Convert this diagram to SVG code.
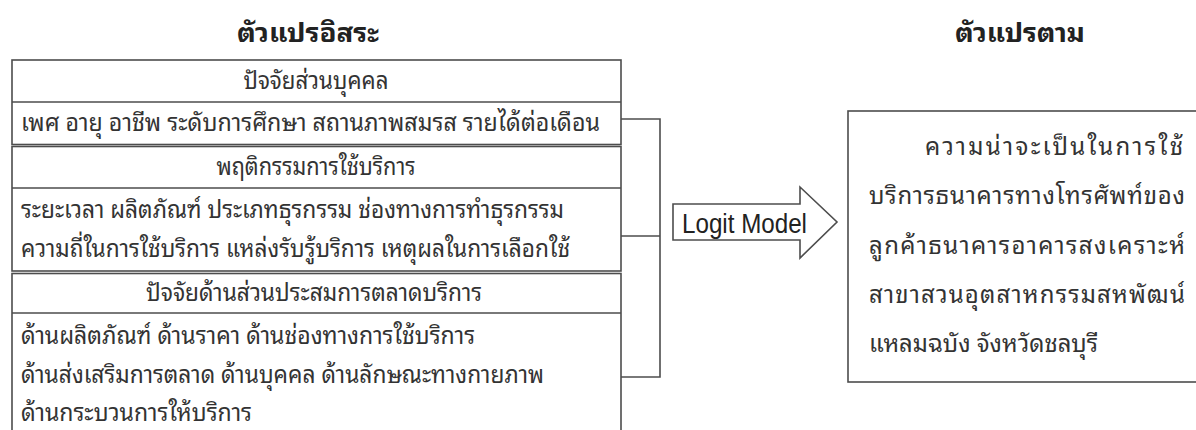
<svg xmlns="http://www.w3.org/2000/svg" width="1196" height="430" viewBox="0 0 1196 430">
<style>
.bx{fill:#fff;stroke:#4d4d4d;stroke-width:1.6}
.ln{fill:none;stroke:#4d4d4d;stroke-width:1.6}
.t{font-family:'Noto Sans Thai Looped','Noto Serif Thai','Loma','Garuda','Noto Sans','DejaVu Sans',sans-serif;font-size:24px;fill:#333}
.c{text-anchor:middle}
.h{font-family:'Noto Sans Thai Looped','Noto Serif Thai','Loma','Garuda','Noto Sans','DejaVu Sans',sans-serif;font-size:26px;font-weight:bold;fill:#222;text-anchor:middle}
.lg{font-family:'Liberation Sans',Arial,sans-serif;font-size:27px;fill:#222}
</style>
<rect width="1196" height="430" fill="#fff"/>
<g id="titles">
<text class="h" x="308" y="42" textLength="142" lengthAdjust="spacingAndGlyphs">ตัวแปรอิสระ</text>
<text class="h" x="1020" y="42" textLength="130" lengthAdjust="spacingAndGlyphs">ตัวแปรตาม</text>
</g>
<g id="personal">
<rect class="bx" x="12" y="60" width="609" height="84.5"/>
<line class="ln" x1="12" y1="102" x2="621" y2="102"/>
<text class="t c" x="316" y="89" textLength="145" lengthAdjust="spacingAndGlyphs">ปัจจัยส่วนบุคคล</text>
<text class="t" x="21" y="131" textLength="579" lengthAdjust="spacingAndGlyphs">เพศ อายุ อาชีพ ระดับการศึกษา สถานภาพสมรส รายได้ต่อเดือน</text>
</g>
<g id="behavior">
<rect class="bx" x="12" y="146.5" width="609" height="124.5"/>
<line class="ln" x1="12" y1="188" x2="621" y2="188"/>
<text class="t c" x="316" y="175" textLength="199" lengthAdjust="spacingAndGlyphs">พฤติกรรมการใช้บริการ</text>
<text class="t" x="21" y="218" textLength="543" lengthAdjust="spacingAndGlyphs">ระยะเวลา ผลิตภัณฑ์ ประเภทธุรกรรม ช่องทางการทำธุรกรรม</text>
<text class="t" x="21" y="257" textLength="549" lengthAdjust="spacingAndGlyphs">ความถี่ในการใช้บริการ แหล่งรับรู้บริการ เหตุผลในการเลือกใช้</text>
</g>
<g id="marketing">
<rect class="bx" x="12" y="273.5" width="609" height="170"/>
<line class="ln" x1="12" y1="313" x2="621" y2="313"/>
<text class="t c" x="314" y="301" textLength="336" lengthAdjust="spacingAndGlyphs">ปัจจัยด้านส่วนประสมการตลาดบริการ</text>
<text class="t" x="21" y="344" textLength="454" lengthAdjust="spacingAndGlyphs">ด้านผลิตภัณฑ์ ด้านราคา ด้านช่องทางการใช้บริการ</text>
<text class="t" x="21" y="383" textLength="523" lengthAdjust="spacingAndGlyphs">ด้านส่งเสริมการตลาด ด้านบุคคล ด้านลักษณะทางกายภาพ</text>
<text class="t" x="21" y="421" textLength="231" lengthAdjust="spacingAndGlyphs">ด้านกระบวนการให้บริการ</text>
</g>
<g id="connectors">
<path class="ln" d="M621 119 H660 V377 H621"/>
<path class="ln" d="M621 236 H660"/>
</g>
<g id="logit">
<path class="bx" d="M673 204 H800 V187 L837 222 L800 258 V240 H673 Z"/>
<text class="lg" x="682" y="233" textLength="125" lengthAdjust="spacingAndGlyphs">Logit Model</text>
</g>
<g id="outcome">
<rect class="bx" x="848" y="111" width="360" height="271"/>
<text class="t" x="925" y="155" textLength="258" lengthAdjust="spacing">ความน่าจะเป็นในการใช้</text>
<text class="t" x="869" y="204" textLength="316" lengthAdjust="spacing">บริการธนาคารทางโทรศัพท์ของ</text>
<text class="t" x="869" y="254" textLength="316" lengthAdjust="spacing">ลูกค้าธนาคารอาคารสงเคราะห์</text>
<text class="t" x="869" y="303" textLength="316" lengthAdjust="spacing">สาขาสวนอุตสาหกรรมสหพัฒน์</text>
<text class="t" x="869" y="352" textLength="229" lengthAdjust="spacingAndGlyphs">แหลมฉบัง จังหวัดชลบุรี</text>
</g>
</svg>
